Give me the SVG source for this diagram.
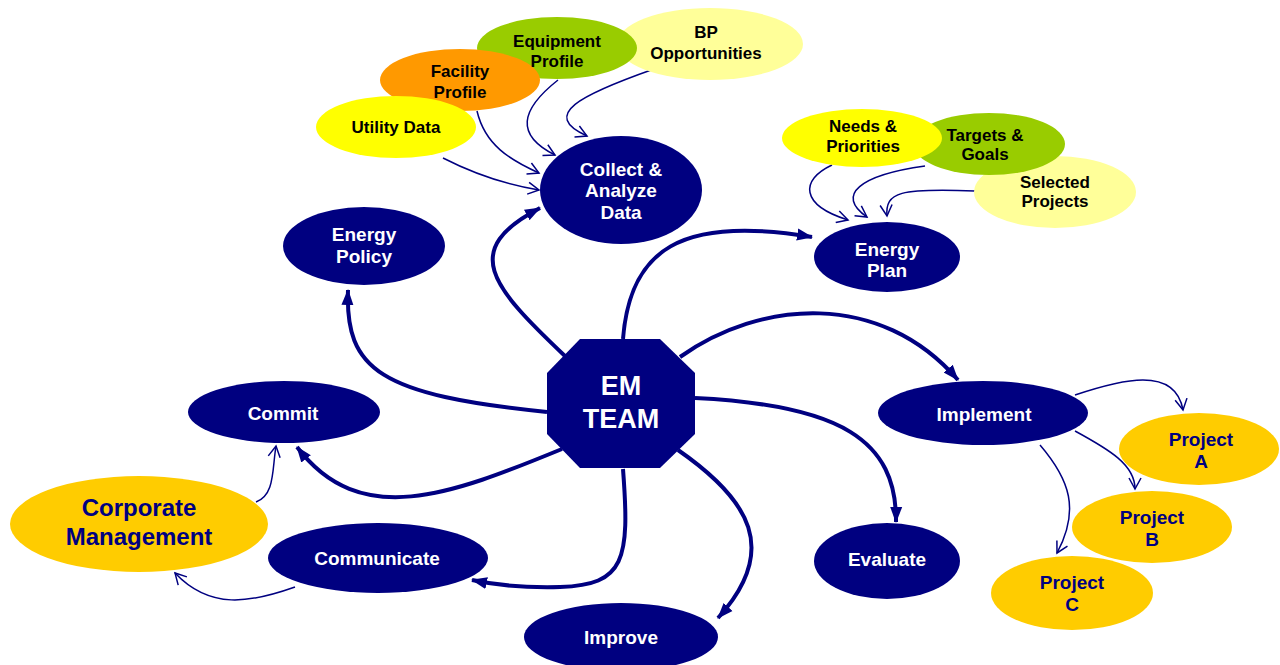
<svg xmlns="http://www.w3.org/2000/svg" width="1280" height="665" viewBox="0 0 1280 665">
<style>
.nv{fill:#000080}
.wt{fill:#fff;font-family:"Liberation Sans",Arial,sans-serif;font-weight:bold;font-size:19px;text-anchor:middle}
.bt{fill:#000;font-family:"Liberation Sans",Arial,sans-serif;font-weight:bold;font-size:17px;text-anchor:middle}
.pt{fill:#000080;font-family:"Liberation Sans",Arial,sans-serif;font-weight:bold;font-size:19px;text-anchor:middle}
.thick{fill:none;stroke:#000080;stroke-width:4;marker-end:url(#ah)}
.thin{fill:none;stroke:#000080;stroke-width:1.5;marker-end:url(#av)}
</style>
<defs>
<marker id="ah" markerUnits="userSpaceOnUse" markerWidth="18" markerHeight="14" refX="15" refY="7" orient="auto">
<path d="M0,1 L16,7 L0,13 Z" fill="#000080"/>
</marker>
<marker id="av" markerUnits="userSpaceOnUse" markerWidth="14" markerHeight="14" refX="12" refY="7" orient="auto">
<path d="M1,1 L12,7 L1,13" fill="none" stroke="#000080" stroke-width="1.5"/>
</marker>
</defs>
<rect width="1280" height="665" fill="#fff"/>

<g id="connectors">
<path class="thick" d="M566,357 C490,285 460,250 540,208"/>
<path class="thick" d="M623,339 C630,250 680,215 812,237"/>
<path class="thick" d="M547,412 C380,395 345,370 348,290"/>
<path class="thick" d="M562,449 C450,495 360,530 297,447"/>
<path class="thick" d="M623,469 C630,560 625,585 560,587 C520,588 495,585 472,580"/>
<path class="thick" d="M678,450 C750,500 780,550 718,618"/>
<path class="thick" d="M695,398 C840,405 897,440 896,522"/>
<path class="thick" d="M680,357 C760,300 880,290 958,380"/>
<path class="thin" d="M443,158 Q490,182 539,190"/>
<path class="thin" d="M477,111 C485,145 510,160 539,173"/>
<path class="thin" d="M558,80 C520,110 515,135 555,155"/>
<path class="thin" d="M654,69 C580,95 540,115 587,136"/>
<path class="thin" d="M832,165 C800,180 800,205 848,220"/>
<path class="thin" d="M925,166 C860,175 835,195 867,217"/>
<path class="thin" d="M975,191 C900,188 885,192 887,216"/>
<path class="thin" d="M1075,395 C1120,380 1175,365 1183,410"/>
<path class="thin" d="M1075,431 C1110,450 1135,465 1135,489"/>
<path class="thin" d="M1040,445 C1070,480 1080,510 1057,553"/>
<path class="thin" d="M256,502 C275,495 272,470 276,446"/>
<path class="thin" d="M295,587 C250,603 210,610 175,573"/>
</g>

<g id="bp-opportunities"><ellipse cx="710" cy="44" rx="93" ry="36" fill="#FFFF99"/></g>
<g id="equipment-profile"><ellipse cx="557" cy="48" rx="80" ry="31" fill="#99CC00"/></g>
<g id="facility-profile"><ellipse cx="460" cy="80" rx="80" ry="31" fill="#FF9900"/></g>
<g id="utility-data"><ellipse cx="396" cy="127" rx="80" ry="31" fill="#FFFF00"/></g>
<g id="cluster-top-text">
<text class="bt" x="706" y="38">BP</text><text class="bt" x="706" y="59">Opportunities</text>
<text class="bt" x="557" y="47">Equipment</text><text class="bt" x="557" y="67">Profile</text>
<text class="bt" x="460" y="77">Facility</text><text class="bt" x="460" y="98">Profile</text>
<text class="bt" x="396" y="133">Utility Data</text>
</g>

<g id="selected-projects"><ellipse cx="1055" cy="192" rx="81" ry="36" fill="#FFFF99"/></g>
<g id="targets-goals"><ellipse cx="989" cy="144" rx="76" ry="31" fill="#99CC00"/></g>
<g id="needs-priorities"><ellipse cx="862" cy="138" rx="80" ry="29" fill="#FFFF00"/></g>
<g id="cluster-right-text">
<text class="bt" x="1055" y="188">Selected</text><text class="bt" x="1055" y="207">Projects</text>
<text class="bt" x="985" y="141">Targets &amp;</text><text class="bt" x="985" y="160">Goals</text>
<text class="bt" x="863" y="132">Needs &amp;</text><text class="bt" x="863" y="152">Priorities</text>
</g>

<g id="collect-analyze-data"><ellipse class="nv" cx="621" cy="190" rx="81" ry="54"/>
<text class="wt" x="621" y="176">Collect &amp;</text><text class="wt" x="621" y="197">Analyze</text><text class="wt" x="621" y="219">Data</text></g>
<g id="energy-plan"><ellipse class="nv" cx="887" cy="257" rx="73" ry="35"/>
<text class="wt" x="887" y="256">Energy</text><text class="wt" x="887" y="277">Plan</text></g>
<g id="energy-policy"><ellipse class="nv" cx="364" cy="246" rx="81" ry="39"/>
<text class="wt" x="364" y="241">Energy</text><text class="wt" x="364" y="263">Policy</text></g>
<g id="commit"><ellipse class="nv" cx="284" cy="412" rx="96" ry="31"/>
<text class="wt" x="283" y="420">Commit</text></g>
<g id="corporate-management"><ellipse cx="139" cy="524" rx="129" ry="48" fill="#FFCC00"/>
<text class="pt" style="font-size:24px" x="139" y="516">Corporate</text><text class="pt" style="font-size:24px" x="139" y="545">Management</text></g>
<g id="communicate"><ellipse class="nv" cx="378" cy="558" rx="110" ry="35"/>
<text class="wt" x="377" y="565">Communicate</text></g>
<g id="improve"><ellipse class="nv" cx="621" cy="637" rx="97" ry="34"/>
<text class="wt" x="621" y="644">Improve</text></g>
<g id="evaluate"><ellipse class="nv" cx="887" cy="561" rx="73" ry="38"/>
<text class="wt" x="887" y="566">Evaluate</text></g>
<g id="implement"><ellipse class="nv" cx="983" cy="413" rx="105" ry="32"/>
<text class="wt" x="984" y="421">Implement</text></g>
<g id="project-a"><ellipse cx="1199" cy="449" rx="80" ry="36" fill="#FFCC00"/>
<text class="pt" x="1201" y="446">Project</text><text class="pt" x="1201" y="468">A</text></g>
<g id="project-b"><ellipse cx="1152" cy="527" rx="80" ry="36" fill="#FFCC00"/>
<text class="pt" x="1152" y="524">Project</text><text class="pt" x="1152" y="546">B</text></g>
<g id="project-c"><ellipse cx="1072" cy="593" rx="81" ry="37" fill="#FFCC00"/>
<text class="pt" x="1072" y="589">Project</text><text class="pt" x="1072" y="611">C</text></g>
<g id="em-team"><polygon class="nv" points="580,339 660,339 695,373 695,434 660,468 580,468 547,434 547,373"/>
<text class="wt" style="font-size:27px" x="621" y="395">EM</text><text class="wt" style="font-size:27px" x="621" y="428">TEAM</text></g>
</svg>
